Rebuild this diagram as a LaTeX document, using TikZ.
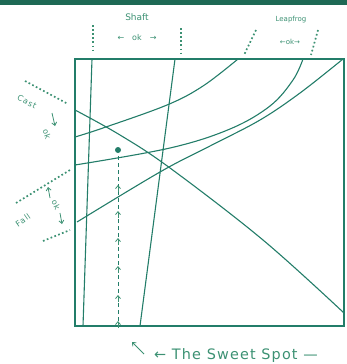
\documentclass[tikz,border=0pt]{standalone}
\usepackage{fontspec}
\setmainfont{DejaVu Sans}
\usetikzlibrary{arrows.meta,positioning,calc}
\definecolor{skgreen}{RGB}{35,125,105}
\definecolor{sktext} {RGB}{60,145,115}
\definecolor{skbar}  {RGB}{30,105, 85}
\tikzset{
  frame/.style={draw=skgreen,line width=1.4pt},
  crv/.style={draw=skgreen,line width=1.1pt},
  mrk/.style={draw=sktext,line width=1.7pt,dash pattern=on 1.7pt off 2.4pt},
  lbl/.style={font=\footnotesize,text=sktext,inner sep=1pt},
  tip/.style={-{Straight Barb[length=3pt,width=5pt]},draw=sktext,line width=0.8pt},
}
\begin{document}
\begin{tikzpicture}[x=1pt,y=-1pt]
  \useasboundingbox (0,0) rectangle (347,364);
  % top bar
  \fill[skbar] (0,0) rectangle (347,5);
  % box
  \coordinate (nw) at (75,59);
  \coordinate (se) at (344,326);
  \draw[frame] (nw) rectangle (se);

  % shaft lines
  \coordinate (shlt) at (92,59);  \coordinate (shlb) at (83,326);
  \coordinate (shrt) at (175,59); \coordinate (shrb) at (140,326);
  \draw[crv] (shlt) -- (shlb);
  \draw[crv] (shrt) -- (shrb);

  % curves
  \draw[crv] plot[smooth,tension=0.6] coordinates
    {(75,137) (103,128) (167,105) (203,86) (238,59)};
  \draw[crv] plot[smooth,tension=0.6] coordinates
    {(75,165) (170,148) (230,129) (270,106) (293,80) (303,59)};
  \draw[crv] plot[smooth,tension=0.6] coordinates
    {(77,222) (160,172) (210,146) (260,120) (300,93) (343,59)};
  \draw[crv] plot[smooth,tension=0.6] coordinates
    {(75,110) (120,135) (170,168) (263,240) (344,313)};

  % sweet spot
  \fill[skgreen] (118,150) circle (3pt) coordinate (spot);
  \coordinate (spotb) at (118,326);
  \draw[skgreen,line width=0.8pt,dash pattern=on 4pt off 3pt]
    ([yshift=-6pt]spot) -- (spotb);
  \foreach \y in {185,211,238,266,295,321}
    \draw[tip] (118,\y+7) -- (118,\y);

  % Shaft
  \node[lbl,font=\small] (shaft) at (137,17) {Shaft};
  \node[lbl] (shaftok) at (137,38) {←\quad ok\quad →};
  \draw[mrk] (93,25) -- (93,51);
  \draw[mrk] (181,28) -- (181,55);

  % Leapfrog
  \node[lbl,font=\scriptsize] (leap) at (291,20) {Leapfrog};
  \node[lbl,font=\scriptsize] (leapok) at (290,42) {←ok→};
  \draw[mrk] (256,30) -- (244,55);
  \draw[mrk] (318,30) -- (311,55);

  % Cast
  \draw[mrk] (25,81) -- (68,104);
  \node[lbl,font=\footnotesize\addfontfeature{LetterSpace=12},rotate=-28]
    (cast) at (27,102) {Cast};
  \draw[tip] (52,113) -- (55,126);
  \node[lbl,rotate=-70] (castok) at (47,134) {ok};

  % Fall
  \draw[mrk] (16,203) -- (70,170);
  \draw[mrk] (43,241) -- (70,230);
  \node[lbl,font=\footnotesize\addfontfeature{LetterSpace=12},rotate=35]
    (fall) at (23,220) {Fall};
  \draw[tip] (50,198) -- (48,187);
  \node[lbl,rotate=-65] (fallok) at (56,205) {ok};
  \draw[tip] (60,213) -- (62,224);

  % bottom label
  \draw[tip] (144,354) -- (132,342);
  \node[lbl,font=\Large\addfontfeature{LetterSpace=8},anchor=west] (sweet)
    at (153,356) {← The Sweet Spot —};
\end{tikzpicture}
\end{document}
